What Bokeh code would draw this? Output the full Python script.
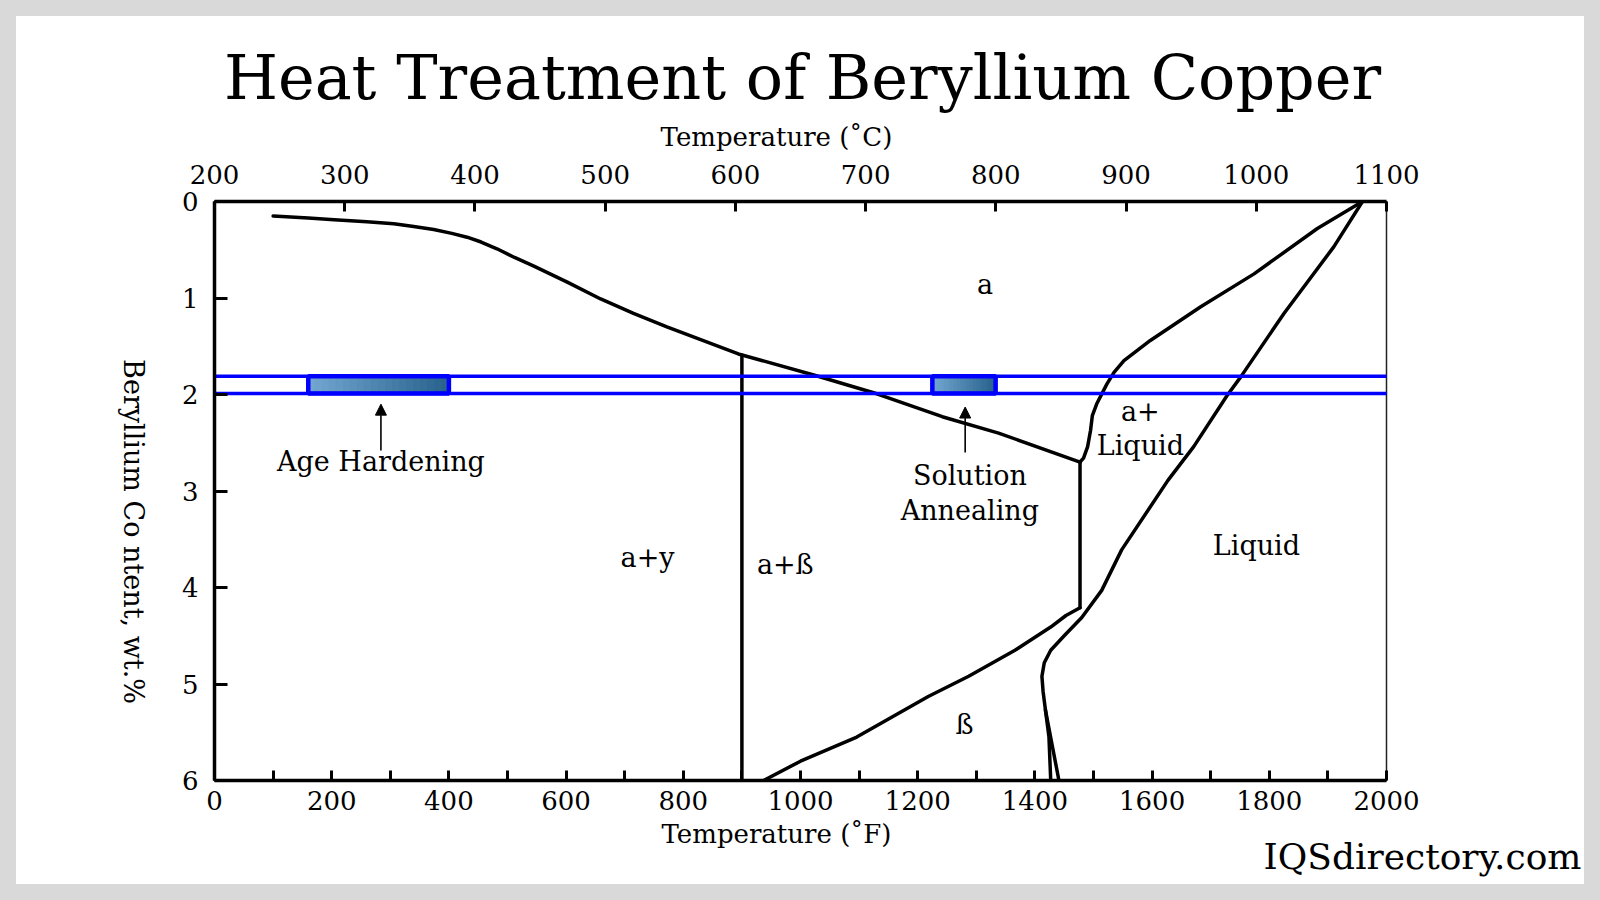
import numpy as np
from bokeh.plotting import figure
from bokeh.models import (Range1d, LinearAxis, FixedTicker, Arrow, NormalHead, ColumnDataSource)
from bokeh.layouts import column, row
from bokeh.core.properties import value
from bokeh.embed import file_html
from bokeh.resources import INLINE

FONT = "DejaVu Serif"

# ---------------- data ----------------
f_ticks = [0, 200, 400, 600, 800, 1000, 1200, 1400, 1600, 1800, 2000]
f_minor = [100, 300, 500, 700, 900, 1100, 1300, 1500, 1700, 1900]
c_ticks = [200, 300, 400, 500, 600, 700, 800, 900, 1000, 1100]
be_ticks = [0, 1, 2, 3, 4, 5, 6]

# alpha solvus (F, wt.%)
solvus_f = [100, 160, 204, 260, 306, 340, 374, 405, 431, 455, 482, 512, 545, 602, 659, 715, 772, 894,
            1024, 1129, 1242, 1338, 1477]
solvus_w = [0.15, 0.17, 0.19, 0.21, 0.23, 0.26, 0.29, 0.33, 0.37, 0.42, 0.49, 0.58, 0.67, 0.835, 1.01,
            1.16, 1.30, 1.58, 1.80, 1.99, 2.23, 2.40, 2.70]

# eutectoid vertical line and peritectic vertical line
eut_f = [900, 900]
eut_w = [1.59, 6.0]
per_f = [1477, 1477]
per_w = [2.70, 4.21]

# alpha solidus
solidus_f = [1959, 1882, 1774, 1683, 1597, 1552, 1535, 1523, 1506, 1498, 1495, 1490, 1483, 1477]
solidus_w = [0.0, 0.28, 0.75, 1.09, 1.44, 1.65, 1.77, 1.89, 2.09, 2.22, 2.37, 2.54, 2.66, 2.70]

# liquidus
liquidus_f = [1959, 1910, 1825, 1751, 1728, 1671, 1627, 1548, 1514, 1480, 1450, 1427, 1416, 1412,
              1414, 1418, 1424, 1427]
liquidus_w = [0.0, 0.47, 1.16, 1.82, 2.01, 2.54, 2.89, 3.61, 4.03, 4.31, 4.50, 4.65, 4.78, 4.92,
              5.08, 5.27, 5.55, 6.0]

# beta boundary
beta_f = [937, 1000, 1096, 1218, 1287, 1366, 1427, 1453, 1477]
beta_w = [6.0, 5.80, 5.55, 5.13, 4.92, 4.65, 4.41, 4.29, 4.21]

# beta solidus branch
branch_f = [1418, 1441]
branch_w = [5.27, 6.0]

# heat-treatment band and windows
band_w = [1.81, 1.99]
window_left = [160, 1225]
window_right = [400, 1333]

# arrows
arrow_f = [284, 1281]
arrow_tail = [2.58, 2.60]
arrow_head = [2.10, 2.13]

# region / annotation labels
label_text = ["a", "a+", "Liquid", "a+y", "a+ß", "Liquid", "ß", "Age Hardening", "Solution", "Annealing"]
label_f = [1315, 1580, 1580, 739, 974, 1778, 1280, 284, 1289, 1289]
label_w = [0.86, 2.18, 2.53, 3.69, 3.76, 3.56, 5.42, 2.69, 2.84, 3.20]

title_text = "Heat Treatment of Beryllium Copper"
top_label = "Temperature (˚C)"
bottom_label = "Temperature (˚F)"
y_label = "Beryllium Co ntent, wt.%"
watermark = "IQSdirectory.com"

# ---------------- layout geometry (page pixels) ----------------
PAD = 16
CARD_W, CARD_H = 1568, 868
FL, FT, FR, FB = 214, 201, 1386, 780     # frame edges
TOP_Y1 = 153                               # bottom of title strip
LEFT_X1 = 166                              # right of y-label strip
BOT_Y0 = 818                               # top of bottom strip
TOP_H = TOP_Y1 - PAD
LEFT_W = LEFT_X1 - PAD
MID_H = BOT_Y0 - TOP_Y1
BOT_H = PAD + CARD_H - BOT_Y0


def text_fig(w, h):
    f = figure(width=w, height=h, x_range=Range1d(0, w), y_range=Range1d(h, 0),
               output_backend="svg", toolbar_location=None, min_border=0,
               min_border_left=0, min_border_right=0, min_border_top=0, min_border_bottom=0,
               x_axis_location=None, y_axis_location=None,
               background_fill_color="white", border_fill_color="white")
    f.xgrid.visible = False
    f.ygrid.visible = False
    f.outline_line_color = None
    return f


def put(f, x, y, text, size, align="center", angle=0.0):
    f.text(x=[x], y=[y], text=[text], text_align=align, text_baseline="middle", angle=angle,
           text_font=value(FONT), text_font_size=size, text_color="black")


# title strip
top_fig = text_fig(CARD_W, TOP_H)
put(top_fig, 802 - PAD, 77 - PAD, title_text, "62px")
put(top_fig, 776 - PAD, 136 - PAD, top_label, "26px")

# y-label strip
left_fig = text_fig(LEFT_W, MID_H)
put(left_fig, 133 - PAD, 532 - TOP_Y1, y_label, "27px", angle=-np.pi / 2)

# bottom strip
bot_fig = text_fig(CARD_W, BOT_H)
put(bot_fig, 776 - PAD, 833 - BOT_Y0, bottom_label, "26px")
put(bot_fig, 1581 - PAD, 856 - BOT_Y0, watermark, "36px", align="right")

# ---------------- main plot ----------------
p = figure(width=CARD_W - LEFT_W, height=MID_H,
           x_range=Range1d(0, 2000), y_range=Range1d(6, 0),
           output_backend="svg", toolbar_location=None,
           min_border_left=FL - LEFT_X1, min_border_right=PAD + CARD_W - FR,
           min_border_top=FT - TOP_Y1, min_border_bottom=BOT_Y0 - FB,
           background_fill_color="white", border_fill_color="white")
p.xgrid.visible = False
p.ygrid.visible = False
p.outline_line_color = "#222222"
p.outline_line_width = 1.5


def style_axis(ax, tick_in):
    ax.axis_line_width = 3.5
    ax.axis_line_color = "black"
    ax.major_tick_in = tick_in
    ax.major_tick_out = 0
    ax.major_tick_line_width = 3
    ax.major_tick_line_color = "black"
    ax.minor_tick_in = tick_in
    ax.minor_tick_out = 0
    ax.minor_tick_line_width = 3
    ax.minor_tick_line_color = "black"
    ax.major_label_text_font = FONT
    ax.major_label_text_font_size = "26px"
    ax.major_label_text_color = "black"


xb = p.xaxis[0]
xb.ticker = FixedTicker(ticks=f_ticks, minor_ticks=f_minor)
style_axis(xb, 10)
xb.major_label_standoff = 10

yl = p.yaxis[0]
yl.ticker = FixedTicker(ticks=be_ticks, minor_ticks=[])
style_axis(yl, 13)
yl.major_label_standoff = 16

p.extra_x_ranges = {"C": Range1d(200, 1100)}
xt = LinearAxis(x_range_name="C", ticker=FixedTicker(ticks=c_ticks, minor_ticks=[]))
style_axis(xt, 10)
xt.major_label_standoff = 18
p.add_layout(xt, "above")

# curves
LW = 3.5
for xs, ys in [(solvus_f, solvus_w), (eut_f, eut_w), (per_f, per_w), (solidus_f, solidus_w),
               (liquidus_f, liquidus_w), (beta_f, beta_w), (branch_f, branch_w)]:
    p.line(xs, ys, line_color="black", line_width=LW, line_join="round", line_cap="round")

# gradient-filled windows
light = np.array([0x72, 0xa6, 0xd0])
dark = np.array([0x2a, 0x64, 0x8e])
N = 20
for x0, x1 in zip(window_left, window_right):
    edges = np.linspace(x0, x1, N + 1)
    cols = []
    for i in range(N):
        t = i / (N - 1)
        c = (light * (1 - t) + dark * t).astype(int)
        cols.append("#%02x%02x%02x" % tuple(c))
    p.quad(left=edges[:-1], right=edges[1:], top=[band_w[0]] * N, bottom=[band_w[1]] * N,
           fill_color=cols, line_color=cols, line_width=1.2)
p.quad(left=window_left, right=window_right, top=[band_w[0]] * 2, bottom=[band_w[1]] * 2,
       fill_color=None, line_color="#0000ff", line_width=4.5)

# blue band lines
p.segment(x0=[-50, -50], x1=[2050, 2050], y0=band_w, y1=band_w, line_color="#0000ff", line_width=3.5)

# arrows
for xf, ys, ye in zip(arrow_f, arrow_tail, arrow_head):
    p.add_layout(Arrow(x_start=xf, y_start=ys, x_end=xf, y_end=ye, line_width=1.6, line_color="black",
                       end=NormalHead(size=11, fill_color="black", line_color="black", line_width=1)))

# region labels
src = ColumnDataSource(dict(x=label_f, y=label_w, t=label_text))
p.text(x="x", y="y", text="t", source=src, text_align="center", text_baseline="middle",
       text_font=value(FONT), text_font_size="27px", text_color="black")

card = column(top_fig, row(left_fig, p), bot_fig, styles={"background-color": "white"})
root = column(card, styles={"padding": "%dpx" % PAD, "background-color": "#d9d9d9"})
open("out.html", "w").write(file_html(root, INLINE))
